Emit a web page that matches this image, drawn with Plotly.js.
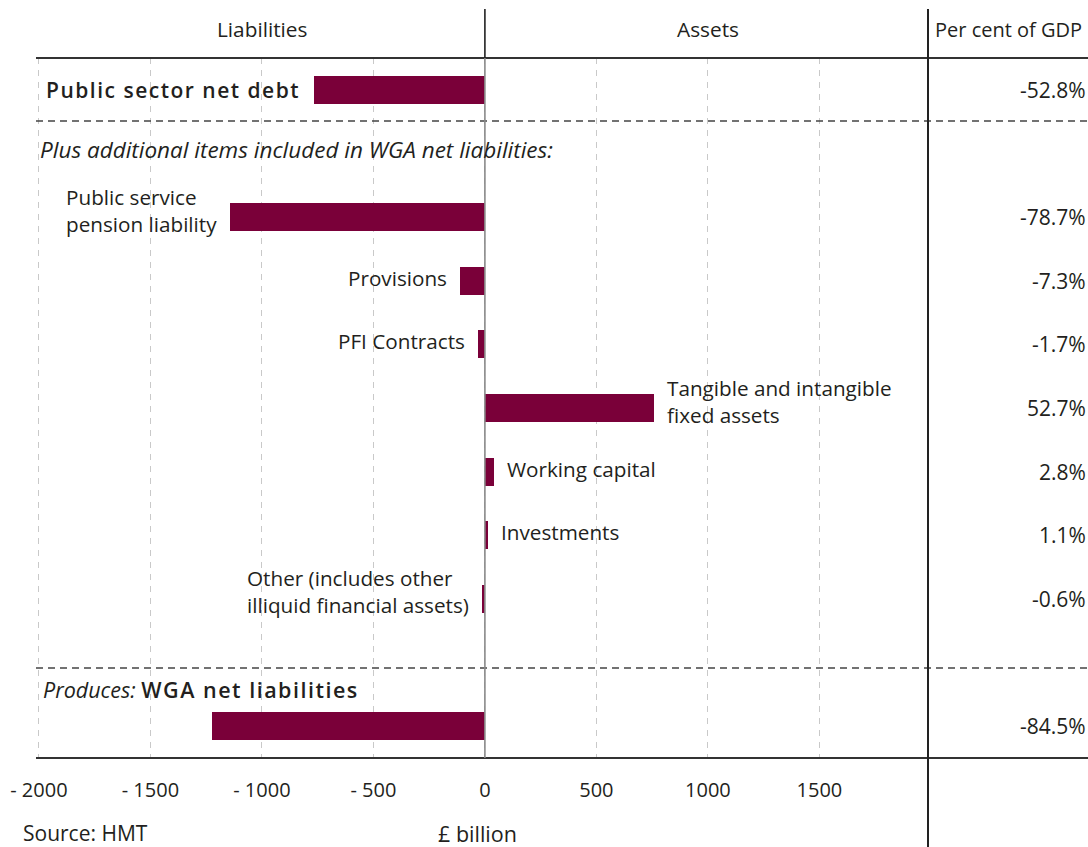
<!DOCTYPE html>
<html>
<head>
<meta charset="utf-8">
<script src="https://cdn.plot.ly/plotly-3.0.1.min.js"></script>
<style>
  html, body { margin: 0; padding: 0; background: #fff; }
  #chart { width: 1088px; height: 847px; }
  .annotation text tspan[style*="bold"] { letter-spacing: 1.5px; font-weight: 600 !important; }
</style>
</head>
<body>
<div id="chart"></div>
<script>
// ---- Data ----
const items = [
  "Public sector net debt",
  "Public service pension liability",
  "Provisions",
  "PFI Contracts",
  "Tangible and intangible fixed assets",
  "Working capital",
  "Investments",
  "Other (includes other illiquid financial assets)",
  "WGA net liabilities"
];
const itemLabels = [
  "Public sector net debt",
  "Public service<br>pension liability",
  "Provisions",
  "PFI Contracts",
  "Tangible and intangible<br>fixed assets",
  "Working capital",
  "Investments",
  "Other (includes other<br>illiquid financial assets)",
  "WGA net liabilities"
];
const valuesBn = [-767, -1143, -112, -31, 758, 40, 13, -13, -1224];
const pctGDP = ["-52.8%", "-78.7%", "-7.3%", "-1.7%", "52.7%", "2.8%", "1.1%", "-0.6%", "-84.5%"];
const tickVals = [-2000, -1500, -1000, -500, 0, 500, 1000, 1500];
const tickText = ["- 2000", "- 1500", "- 1000", "- 500", "0", "500", "1000", "1500"];
const sectionNote = "Plus additional items included in WGA net liabilities:";
const resultNote = "Produces:";
const sourceText = "Source: HMT";
const unitText = "£ billion";

// ---- Layout helpers ----
const SPACER_A = " ";
const SPACER_B = "  ";
const catOrder = [items[0], SPACER_A].concat(items.slice(1, items.length - 1), [SPACER_B, items[items.length - 1]]);

const FONT = "'Open Sans', Lato, sans-serif";
const TXT = "#231f20";
const BAR = "#7a0039";

const W = 1088, H = 847;
const M = { l: 36, r: 160, t: 58, b: 89 };
const PW = W - M.l - M.r, PH = H - M.t - M.b;
const px2x = p => (p - M.l) / PW;        // pixel -> paper x
const py2y = p => 1 - (p - M.t) / PH;     // pixel -> paper y

const trace = {
  type: "bar",
  orientation: "h",
  x: valuesBn,
  y: items,
  width: 0.44,
  marker: { color: BAR, line: { width: 0 } },
  hoverinfo: "skip"
};

const annotations = [];
// column headers
annotations.push({ text: "Liabilities", x: -1000, xref: "x", y: py2y(29), yref: "paper", showarrow: false, xanchor: "center", yanchor: "middle", font: { family: FONT, size: 20.8, color: TXT } });
annotations.push({ text: "Assets", x: 1000, xref: "x", y: py2y(29), yref: "paper", showarrow: false, xanchor: "center", yanchor: "middle", font: { family: FONT, size: 20.8, color: TXT } });
annotations.push({ text: "Per cent of GDP", x: px2x(933), xref: "paper", y: py2y(29), yref: "paper", showarrow: false, xanchor: "left", yanchor: "middle", font: { family: FONT, size: 20, color: TXT } });

// item labels
items.forEach((name, i) => {
  const v = valuesBn[i];
  if (i === 0) {
    annotations.push({ text: "<b>" + itemLabels[i] + "</b>", x: px2x(44), xref: "paper", y: name, yref: "y", showarrow: false, xanchor: "left", align: "left", yanchor: "middle", font: { family: FONT, size: 21, color: TXT } });
  } else if (i === items.length - 1) {
    annotations.push({ text: "<i>" + resultNote + "</i> <b><span style='font-size:21.5px'>" + itemLabels[i] + "</span></b>", x: px2x(41), xref: "paper", y: name, yref: "y", yshift: 37, showarrow: false, xanchor: "left", align: "left", yanchor: "middle", font: { family: FONT, size: 21.5, color: TXT } });
  } else {
    const neg = v < 0;
    const multi = itemLabels[i].indexOf("<br>") >= 0;
    annotations.push({ text: itemLabels[i], x: v, xref: "x", y: name, yref: "y", yshift: multi ? 7 : 3, showarrow: false, xanchor: neg ? "right" : "left", xshift: neg ? -11 : 11, align: "left", yanchor: "middle", font: { family: FONT, size: 20.7, color: TXT } });
  }
  annotations.push({ text: pctGDP[i], x: px2x(1088), xref: "paper", y: name, yref: "y", showarrow: false, xanchor: "right", yanchor: "middle", font: { family: FONT, size: 21, color: TXT } });
});

annotations.push({ text: "<i>" + sectionNote + "</i>", x: px2x(38), xref: "paper", y: SPACER_A, yref: "y", yshift: 4, showarrow: false, xanchor: "left", yanchor: "middle", font: { family: FONT, size: 22.5, color: TXT } });
annotations.push({ text: sourceText, x: px2x(21), xref: "paper", y: py2y(833), yref: "paper", showarrow: false, xanchor: "left", yanchor: "middle", font: { family: FONT, size: 21, color: TXT } });
annotations.push({ text: unitText, x: 0, xref: "x", y: py2y(833), yref: "paper", showarrow: false, xanchor: "center", yanchor: "middle", xshift: -7, font: { family: FONT, size: 21.5, color: TXT } });

const RIGHT = px2x(1088);
const shapes = [
  // top rule
  { type: "line", xref: "paper", yref: "paper", x0: 0, x1: RIGHT, y0: 1, y1: 1, line: { color: "#333", width: 2 } },
  // bottom rule
  { type: "line", xref: "paper", yref: "paper", x0: 0, x1: RIGHT, y0: 0, y1: 0, line: { color: "#333", width: 2 } },
  // dashed separators
  { type: "line", xref: "paper", yref: "paper", x0: 0, x1: RIGHT, y0: py2y(121), y1: py2y(121), line: { color: "#444", width: 1.6, dash: "7px,5px" } },
  { type: "line", xref: "paper", yref: "paper", x0: 0, x1: RIGHT, y0: py2y(668), y1: py2y(668), line: { color: "#444", width: 1.6, dash: "7px,5px" } },
  // column divider
  { type: "line", xref: "paper", yref: "paper", x0: 1, x1: 1, y0: py2y(9), y1: py2y(847), line: { color: "#222", width: 2 } },
  // zero line
  { type: "line", xref: "x", yref: "paper", x0: 0, x1: 0, y0: 1, y1: py2y(9), line: { color: "#222", width: 1.6 } },
  { type: "line", xref: "x", yref: "paper", x0: 0, x1: 0, y0: 0, y1: 1, line: { color: "#8a8a8a", width: 1.6 } }
];

const layout = {
  width: W, height: H,
  margin: M,
  paper_bgcolor: "#fff",
  plot_bgcolor: "#fff",
  showlegend: false,
  bargap: 0,
  xaxis: {
    range: [-2013, 1987],
    tickmode: "array",
    tickvals: tickVals,
    ticktext: tickText,
    showgrid: true,
    gridcolor: "#c9c9c9",
    gridwidth: 1,
    griddash: "6px,6px",
    zeroline: false,
    showline: false,
    ticks: "",
    ticklabelstandoff: 18,
    tickfont: { family: FONT, size: 20, color: TXT },
    fixedrange: true
  },
  yaxis: {
    type: "category",
    categoryorder: "array",
    categoryarray: catOrder,
    range: [catOrder.length - 0.5, -0.5],
    showticklabels: false,
    showgrid: false,
    zeroline: false,
    showline: false,
    ticks: "",
    fixedrange: true
  },
  shapes: shapes,
  annotations: annotations
};

Plotly.newPlot("chart", [trace], layout, { displayModeBar: false, staticPlot: true });
</script>
</body>
</html>
